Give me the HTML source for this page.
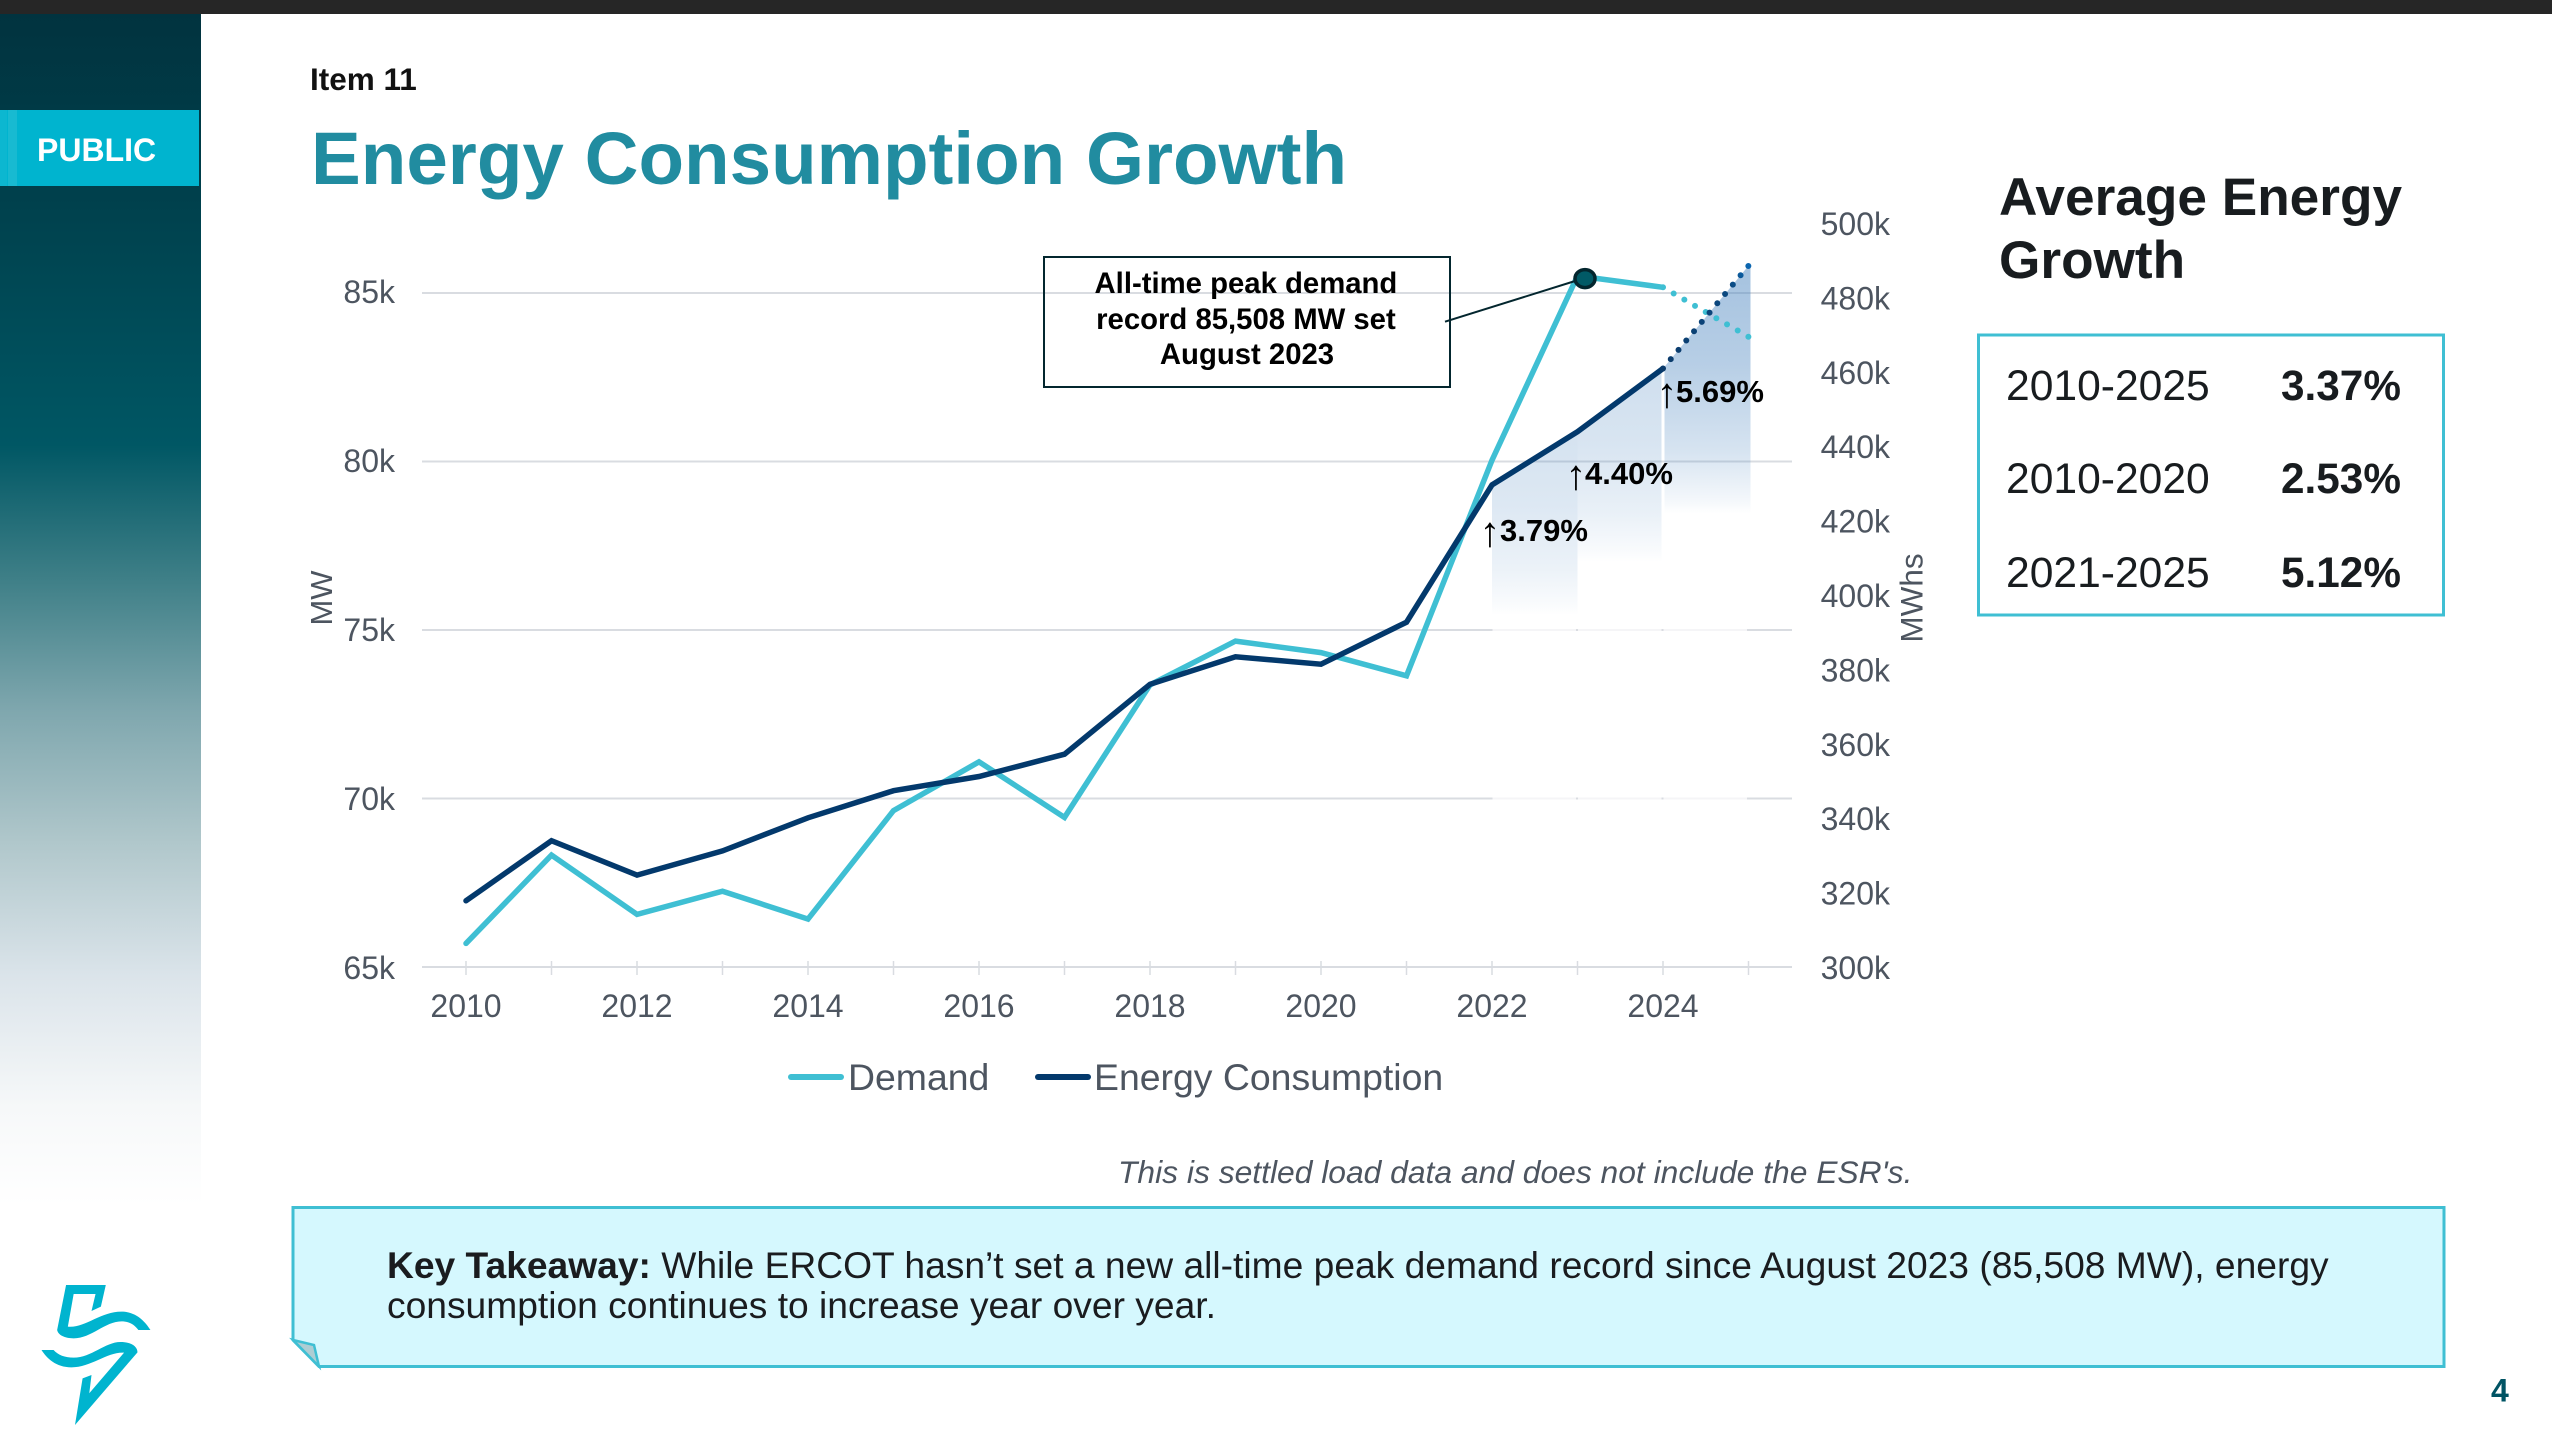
<!DOCTYPE html>
<html lang="en">
<head>
<meta charset="utf-8">
<title>Energy Consumption Growth</title>
<style>
html,body{margin:0;padding:0;background:#fff;width:2552px;height:1442px;overflow:hidden}
svg{display:block}
text{font-family:"Liberation Sans",Arial,sans-serif}
.tick{font-size:32px;fill:#4d5560}
.bold{font-weight:bold}
</style>
</head>
<body>
<svg id="slide" xmlns="http://www.w3.org/2000/svg" width="2552" height="1442" viewBox="0 0 2552 1442">
  <defs>
    <linearGradient id="sideGrad" x1="0" y1="14" x2="0" y2="1205" gradientUnits="userSpaceOnUse">
      <stop offset="0" stop-color="#01333f"/>
      <stop offset="0.143" stop-color="#003f4b"/>
      <stop offset="0.362" stop-color="#005764"/>
      <stop offset="0.474" stop-color="#3e7f87"/>
      <stop offset="0.585" stop-color="#7fa7ae"/>
      <stop offset="0.696" stop-color="#b0c7cb"/>
      <stop offset="0.808" stop-color="#dbe4ea"/>
      <stop offset="0.918" stop-color="#f6f8f9"/>
      <stop offset="1" stop-color="#ffffff"/>
    </linearGradient>
  </defs>

  <rect x="0" y="0" width="2552" height="1442" fill="#ffffff"/>
  <rect x="0" y="0" width="2552" height="14" fill="#262626"/>
  <rect x="0" y="14" width="201" height="1192" fill="url(#sideGrad)"/>
  <g>
    <rect x="0" y="110" width="199" height="76" fill="#00b4cf"/>
    <rect x="0" y="110" width="7" height="76" fill="#0cb7d0"/>
    <rect x="8" y="110" width="9" height="76" fill="#18bad1"/>
    <text x="37" y="161" font-size="32" font-weight="bold" fill="#ffffff">PUBLIC</text>
  </g>

  <path transform="translate(0,1180) scale(0.4464,0.3333)" fill="#00b4cf" d="M148 315 L237 315 L226 380 L205 393 L214 342 L165 342 L152 440 C190 445 225 395 272 395 C305 395 325 425 337 450 L310 450 C300 432 288 424 272 424 C235 424 205 475 165 475 C145 475 130 465 128 450 Z M93 510 L120 510 C130 525 145 533 165 533 C205 533 235 486 270 486 C295 486 308 500 308 517 L168 735 L185 595 L205 585 L200 640 L278 518 C240 515 205 562 160 562 C125 562 105 535 93 510 Z"/>

  <text x="310" y="90" font-size="31.5" font-weight="bold" fill="#111111">Item 11</text>
  <text x="311" y="184" font-size="74.6" font-weight="bold" fill="#218ca0">Energy Consumption Growth</text>

  <g id="chart"></g>

  <text transform="translate(332,598) rotate(-90)" text-anchor="middle" font-size="31" fill="#4d5560">MW</text>
  <text transform="translate(1922.5,598) rotate(-90)" text-anchor="middle" font-size="31.5" fill="#4d5560">MWhs</text>

  <g>
    <g>
      <line x1="791" y1="1077" x2="841" y2="1077" stroke="#3fbfd3" stroke-width="6" stroke-linecap="round"/>
      <text x="848" y="1090" font-size="37.4" fill="#4d5560">Demand</text>
    </g>
    <g>
      <line x1="1038" y1="1077" x2="1088" y2="1077" stroke="#03396c" stroke-width="6" stroke-linecap="round"/>
      <text x="1094" y="1090" font-size="37.4" fill="#4d5560">Energy Consumption</text>
    </g>
  </g>

  <g>
    <text x="1490" y="546" text-anchor="middle" font-size="42" fill="#000">↑</text>
    <text x="1500" y="541" font-size="31" font-weight="bold" fill="#000">3.79%</text>
  </g>
  <g>
    <text x="1576" y="489" text-anchor="middle" font-size="42" fill="#000">↑</text>
    <text x="1585" y="484" font-size="31" font-weight="bold" fill="#000">4.40%</text>
  </g>
  <g>
    <text x="1667" y="407" text-anchor="middle" font-size="42" fill="#000">↑</text>
    <text x="1676" y="402" font-size="31" font-weight="bold" fill="#000">5.69%</text>
  </g>

  <g>
    <rect x="1044" y="257" width="406" height="130" fill="none" stroke="#03262e" stroke-width="2"/>
    <text text-anchor="middle" font-size="29.3" font-weight="bold" fill="#000">
      <tspan x="1250" y="293">All-time peak demand</tspan>
      <tspan x="1250" y="329">record 85,508 MW set</tspan>
      <tspan x="1247" y="364">August 2023</tspan>
    </text>
  </g>

  <g>
    <text font-size="53.2" font-weight="bold" fill="#181c1f">
      <tspan x="1999" y="215">Average Energy</tspan>
      <tspan x="1999" y="278">Growth</tspan>
    </text>
    <rect x="1978.5" y="335" width="465" height="280" fill="none" stroke="#3fbfd3" stroke-width="3"/>
    <g font-size="42.6" fill="#181c1f">
      <text x="2006" y="400">2010-2025</text>
      <text x="2281" y="400" font-size="42.3" font-weight="bold">3.37%</text>
      <text x="2006" y="493">2010-2020</text>
      <text x="2281" y="493" font-size="42.3" font-weight="bold">2.53%</text>
      <text x="2006" y="587">2021-2025</text>
      <text x="2281" y="587" font-size="42.3" font-weight="bold">5.12%</text>
    </g>
  </g>

  <text x="1118" y="1183" font-size="31.8" font-style="italic" fill="#4d5560">This is settled load data and does not include the ESR's.</text>

  <g>
    <path d="M293 1207.5 L2444 1207.5 L2444 1366.5 L319 1366.5 L293 1340 Z" fill="#d5f8fe" stroke="#3fbfd3" stroke-width="3"/>
    <path d="M293 1340 L314 1345 L319 1366.5 Z" fill="#aecdd3" stroke="#3fbfd3" stroke-width="2.5"/>
    <text font-size="37.2" fill="#1a1c1f">
      <tspan x="387" y="1278"><tspan font-weight="bold">Key Takeaway:</tspan> While ERCOT hasn’t set a new all-time peak demand record since August 2023 (85,508 MW), energy</tspan>
      <tspan x="387" y="1318">consumption continues to increase year over year.</tspan>
    </text>
  </g>

  <text x="2491" y="1401.5" font-size="32" font-weight="bold" fill="#005464">4</text>
</svg>

<script>
const years = [2010,2011,2012,2013,2014,2015,2016,2017,2018,2019,2020,2021,2022,2023,2024,2025];
const demandMW = [65700,68320,66560,67250,66420,69640,71090,69440,73370,74670,74330,73640,80040,85508,85170,83700];
const energyMWh = [317.8,333.95,324.7,331.2,340.1,347.4,351.2,357.2,376.0,383.4,381.4,392.7,429.6,443.9,460.9,488.5];
const leftTicks = [65000,70000,75000,80000,85000];
const rightTicks = [300,320,340,360,380,400,420,440,460,480,500];
const yearLabels = [2010,2012,2014,2016,2018,2020,2022,2024];
const shadedYears = [2022,2023,2024];
const shadeFadeMWh = [35,35,39];
const shadeAlpha = [0.23,0.26,0.486];
const fadedGridValues = [70000,75000];

const NS = 'http://www.w3.org/2000/svg';
const chart = document.getElementById('chart');
const defs = document.querySelector('defs');
const x = function (year) { return 466 + (year - 2010) * 85.5; };
const yLeft = function (mw) { return 967 - (mw - 65000) / 5000 * 168.5; };
const yRight = function (k) { return 967 - (k - 300) / 20 * 74.4; };

function mk(tag, attrs, parent) {
  const e = document.createElementNS(NS, tag);
  Object.keys(attrs).forEach(function (k) { e.setAttribute(k, attrs[k]); });
  (parent || chart).appendChild(e);
  return e;
}
function pathOf(xs, ys) {
  return xs.map(function (v, i) { return (i ? 'L' : 'M') + v.toFixed(1) + ' ' + ys[i].toFixed(1); }).join(' ');
}
function dotDash(x0, y0, x1, y1) {
  const len = Math.hypot(x1 - x0, y1 - y0);
  const n = Math.max(1, Math.round(len / 12.2));
  return '0 ' + (len / n - 0.02).toFixed(3);
}

/* gridlines */
leftTicks.forEach(function (v) {
  const gl = mk('line', {x1: 422, x2: 1792, y1: yLeft(v), y2: yLeft(v), stroke: '#d9dce1', 'stroke-width': 2});
  
  
});

/* x ticks */
years.forEach(function (yr) {
  const tk = mk('line', {x1: x(yr), x2: x(yr), y1: 961, y2: 975, stroke: '#d9dce1', 'stroke-width': 1.5});
  
  
});

/* left tick labels */
leftTicks.forEach(function (v) {
  const t = mk('text', {x: 395, y: yLeft(v) + 12 - (v - 65000) / 20000 * 2, 'text-anchor': 'end', class: 'tick'});
  t.textContent = (v / 1000) + 'k';
  
  
});

/* right tick labels */
rightTicks.forEach(function (v) {
  const t = mk('text', {x: 1890, y: yRight(v) + 12, 'text-anchor': 'end', class: 'tick'});
  t.textContent = v + 'k';
  
  
});

/* year labels */
yearLabels.forEach(function (yr) {
  const t = mk('text', {x: x(yr), y: 1017, 'text-anchor': 'middle', class: 'tick'});
  t.textContent = yr;
  
  
});

/* fade of gridlines under the shaded years */
fadedGridValues.forEach(function (v) {
  shadedYears.forEach(function (yr) {
    const f = mk('line', {x1: x(yr) + 0.5, x2: x(yr + 1) - 1.5, y1: yLeft(v), y2: yLeft(v), stroke: '#ffffff', 'stroke-width': 2.4, 'stroke-opacity': 0.72});
    
    
  });
});

/* gradient-shaded growth zones beneath the energy line */
shadedYears.forEach(function (yr, i) {
  const idx = years.indexOf(yr);
  const v0 = energyMWh[idx], v1 = energyMWh[idx + 1];
  const bottom = yRight(v0 - shadeFadeMWh[i]);
  const top = Math.min(yRight(v0), yRight(v1));
  const gr = mk('linearGradient', {id: 'zone' + i, x1: 0, x2: 0, y1: top, y2: bottom, gradientUnits: 'userSpaceOnUse'}, defs);
  mk('stop', {offset: 0, 'stop-color': '#4682be', 'stop-opacity': shadeAlpha[i]}, gr);
  mk('stop', {offset: 0.4, 'stop-color': '#4682be', 'stop-opacity': shadeAlpha[i] * 0.8}, gr);
  mk('stop', {offset: 0.75, 'stop-color': '#4682be', 'stop-opacity': shadeAlpha[i] * 0.45}, gr);
  mk('stop', {offset: 0.95, 'stop-color': '#4682be', 'stop-opacity': shadeAlpha[i] * 0.12}, gr);
  mk('stop', {offset: 1, 'stop-color': '#4682be', 'stop-opacity': 0}, gr);
  const inset = i === 2 ? 1.5 : 0;
  const slope = (yRight(v1) - yRight(v0)) / 85.5;
  const extend = i === 2 ? 2 : (i === 1 ? -1.5 : 0);
  const xa = x(yr) + inset, xb = x(yr + 1) + extend;
  const d = pathOf(
    [xa, xb, xb, xa],
    [yRight(v0) + slope * inset, yRight(v1) + slope * extend, bottom, bottom]
  ) + ' Z';
  const z = mk('path', {d: d, fill: 'url(#zone' + i + ')'});
  
  
});

/* demand series */
const xs = years.map(x);
const ysDemand = demandMW.map(yLeft);
const ysEnergy = energyMWh.map(yRight);
const lastSolid = years.length - 1;

const demandLine = mk('path', {d: pathOf(xs.slice(0, lastSolid), ysDemand.slice(0, lastSolid)), fill: 'none', stroke: '#3fbfd3', 'stroke-width': 5.5, 'stroke-linejoin': 'miter', 'stroke-linecap': 'round'});



const demandDots = mk('path', {d: pathOf(xs.slice(lastSolid - 1), ysDemand.slice(lastSolid - 1)), fill: 'none', stroke: '#3fbfd3', 'stroke-width': 6, 'stroke-linecap': 'round', 'stroke-dasharray': dotDash(xs[lastSolid - 1], ysDemand[lastSolid - 1], xs[lastSolid], ysDemand[lastSolid])});



/* energy series */
const energyDotGrad = mk('linearGradient', {id: 'energyDots', x1: xs[lastSolid - 1], y1: ysEnergy[lastSolid - 1], x2: xs[lastSolid], y2: ysEnergy[lastSolid], gradientUnits: 'userSpaceOnUse'}, defs);
mk('stop', {offset: 0, 'stop-color': '#0b3a6a'}, energyDotGrad);
mk('stop', {offset: 0.8, 'stop-color': '#0b4a82'}, energyDotGrad);
mk('stop', {offset: 1, 'stop-color': '#0b66b0'}, energyDotGrad);

const energyLine = mk('path', {d: pathOf(xs.slice(0, lastSolid), ysEnergy.slice(0, lastSolid)), fill: 'none', stroke: '#03396c', 'stroke-width': 5.5, 'stroke-linejoin': 'miter', 'stroke-linecap': 'round'});



const energyDots = mk('path', {d: pathOf(xs.slice(lastSolid - 1), ysEnergy.slice(lastSolid - 1)), fill: 'none', stroke: 'url(#energyDots)', 'stroke-width': 6, 'stroke-linecap': 'round', 'stroke-dasharray': dotDash(xs[lastSolid - 1], ysEnergy[lastSolid - 1], xs[lastSolid], ysEnergy[lastSolid])});



/* peak marker and connector */
const peakIdx = demandMW.indexOf(Math.max.apply(null, demandMW));
const connector = mk('line', {x1: 1445, y1: 321.7, x2: x(years[peakIdx]) - 2, y2: yLeft(demandMW[peakIdx]) + 5, stroke: '#03262e', 'stroke-width': 2});



const peak = mk('ellipse', {cx: x(years[peakIdx]) + 7.5, cy: yLeft(demandMW[peakIdx]) + 2.7, rx: 10, ry: 9, fill: '#015a66', stroke: '#03262e', 'stroke-width': 3.5});


</script>
</body>
</html>
